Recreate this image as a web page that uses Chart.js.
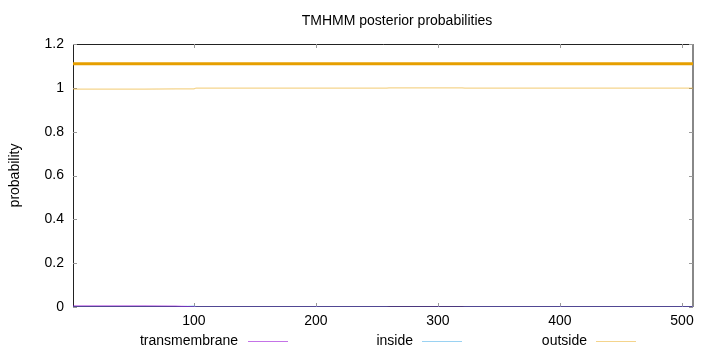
<!DOCTYPE html>
<html>
<head>
<meta charset="utf-8">
<script src="https://cdn.jsdelivr.net/npm/chart.js@4/dist/chart.umd.min.js"></script>
<style>
  html, body { margin: 0; padding: 0; background: #ffffff; }
  #wrap { width: 720px; height: 352px; }
</style>
</head>
<body>
<div id="wrap"><canvas id="c" width="720" height="352"></canvas></div>
<script>
// ---- data ----
const titleText = "TMHMM posterior probabilities";
const yAxisLabel = "probability";
const seriesNames = ["transmembrane", "inside", "outside"];
const positions     = [1,     20,    40,    60,    85,    100,   102,   150,   200,   258,   260,   320,   322,   400,   450,   509];
const transmembrane = [0.005, 0.005, 0.005, 0.005, 0.004, 0.001, 0.000, 0.000, 0.000, 0.000, 0.000, 0.000, 0.000, 0.000, 0.000, 0.000];
const inside        = [0.001, 0.001, 0.001, 0.001, 0.001, 0.004, 0.001, 0.001, 0.001, 0.001, 0.000, 0.000, 0.001, 0.001, 0.001, 0.001];
const outside       = [0.994, 0.994, 0.994, 0.994, 0.995, 0.995, 0.999, 0.999, 0.999, 0.999, 1.000, 1.000, 0.999, 0.999, 0.999, 0.999];
const predictionLevel = 1.11;
const predictionStart = [1];
const predictionEnd   = [509];
const xTicks = [100, 200, 300, 400, 500];
const yTicks = [0, 0.2, 0.4, 0.6, 0.8, 1, 1.2];
const xRange = [1, 509];
const yRange = [0, 1.2];

// ---- styles ----
const FONT = "'Liberation Sans', Arial, Helvetica, sans-serif";
const colTM = "rgba(148,0,211,0.55)";
const colIn = "rgba(86,180,233,0.6)";
const colOut = "rgba(230,159,0,0.45)";
const colPred = "#e69f00";

function pts(vals) { return positions.map((p, i) => ({ x: p, y: vals[i] })); }
const predPoints = [];
predictionStart.forEach((s, i) => {
  predPoints.push({ x: s, y: predictionLevel });
  predPoints.push({ x: predictionEnd[i], y: predictionLevel });
  if (i < predictionStart.length - 1) predPoints.push({ x: predictionEnd[i], y: null });
});

const frame = {
  id: 'frame',
  beforeDatasetsDraw(chart) {
    const { ctx, chartArea: a, scales } = chart;
    ctx.save();
    ctx.lineWidth = 1;
    ctx.strokeStyle = "#222";
    ctx.beginPath();
    ctx.moveTo(a.left + 0.5, a.bottom); ctx.lineTo(a.left + 0.5, a.top + 0.5);
    ctx.lineTo(a.right, a.top + 0.5);
    ctx.moveTo(a.left, a.bottom - 0.5); ctx.lineTo(a.right, a.bottom - 0.5);
    ctx.stroke();
    ctx.strokeStyle = "#888";
    ctx.lineWidth = 2;
    ctx.beginPath();
    ctx.moveTo(a.right, a.top); ctx.lineTo(a.right, a.bottom);
    ctx.stroke();
    ctx.strokeStyle = "#999";
    ctx.lineWidth = 1;
    ctx.beginPath();
    xTicks.forEach(v => {
      const px = Math.round(scales.x.getPixelForValue(v)) + 0.5;
      ctx.moveTo(px, a.bottom); ctx.lineTo(px, a.bottom - 4);
      ctx.moveTo(px, a.top); ctx.lineTo(px, a.top + 4);
    });
    yTicks.forEach(v => {
      const py = Math.round(scales.y.getPixelForValue(v)) + 0.5;
      ctx.moveTo(a.left, py); ctx.lineTo(a.left + 4, py);
      ctx.moveTo(a.right, py); ctx.lineTo(a.right - 4, py);
    });
    ctx.stroke();
    ctx.restore();
  },
  afterDraw(chart) {
    const { ctx } = chart;
    ctx.save();
    ctx.fillStyle = "#000";
    ctx.font = "14px " + FONT;
    ctx.textAlign = "center";
    ctx.textBaseline = "middle";
    ctx.fillText(titleText, 397, 21);
    const legendItems = [
      { label: seriesNames[0], color: colTM, textRight: 238, lineStart: 248 },
      { label: seriesNames[1], color: colIn, textRight: 413, lineStart: 422 },
      { label: seriesNames[2], color: colOut, textRight: 587, lineStart: 596 }
    ];
    ctx.textAlign = "right";
    legendItems.forEach(it => {
      ctx.fillStyle = "#000";
      ctx.fillText(it.label, it.textRight, 341);
      ctx.strokeStyle = it.color;
      ctx.lineWidth = 1;
      ctx.beginPath();
      ctx.moveTo(it.lineStart, 341.5); ctx.lineTo(it.lineStart + 40, 341.5);
      ctx.stroke();
    });
    ctx.restore();
  }
};

new Chart(document.getElementById('c'), {
  type: 'line',
  data: {
    datasets: [
      { label: 'prediction', data: predPoints, borderColor: colPred, borderWidth: 3, pointRadius: 0, spanGaps: false, order: 4 },
      { label: seriesNames[2], data: pts(outside), borderColor: colOut, borderWidth: 1.2, pointRadius: 0, order: 3 },
      { label: seriesNames[1], data: pts(inside), borderColor: colIn, borderWidth: 1.2, pointRadius: 0, order: 2 },
      { label: seriesNames[0], data: pts(transmembrane), borderColor: colTM, borderWidth: 1.2, pointRadius: 0, order: 1 }
    ]
  },
  options: {
    responsive: false,
    animation: false,
    devicePixelRatio: 1,
    layout: { padding: { left: 0, right: 27, top: 44, bottom: 0 } },
    plugins: { legend: { display: false }, title: { display: false }, tooltip: { enabled: false } },
    elements: { line: { tension: 0 } },
    scales: {
      x: {
        type: 'linear',
        min: xRange[0], max: xRange[1],
        grid: { display: false, drawTicks: false },
        border: { display: false },
        afterBuildTicks(scale) { scale.ticks = xTicks.map(v => ({ value: v })); },
        afterFit(scale) { scale.height = 45; },
        ticks: { color: '#000', font: { family: FONT, size: 14 }, padding: 6, maxRotation: 0, autoSkip: false, callback: v => String(v) }
      },
      y: {
        min: yRange[0], max: yRange[1],
        grid: { display: false, drawTicks: false },
        border: { display: false },
        afterBuildTicks(scale) { scale.ticks = yTicks.map(v => ({ value: v })); },
        afterFit(scale) { scale.width = 73; },
        ticks: { color: '#000', font: { family: FONT, size: 14 }, padding: 9, callback: v => String(v) },
        title: { display: true, text: yAxisLabel, color: '#000', font: { family: FONT, size: 14 }, padding: { top: 7, bottom: 0 } }
      }
    }
  },
  plugins: [frame]
});
</script>
</body>
</html>
